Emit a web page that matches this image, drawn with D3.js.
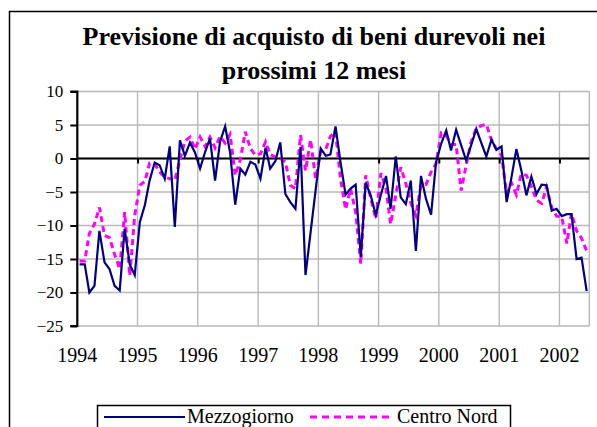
<!DOCTYPE html>
<html><head><meta charset="utf-8">
<script src="https://cdn.jsdelivr.net/npm/d3@7"></script>
<style>body{margin:0;background:#fff}svg{display:block}</style>
</head><body><svg id="c" width="597" height="427"></svg>
<script>
// ---- data ----
const title1 = "Previsione di acquisto di beni durevoli nei";
const title2 = "prossimi 12 mesi";
const yearLabels = ["1994","1995","1996","1997","1998","1999","2000","2001","2002"];
const yTickValues = [10, 5, 0, -5, -10, -15, -20, -25];
const seriesNames = ["Mezzogiorno", "Centro Nord"];
// monthly observations, January 1994 - June 2002
const mezzogiorno = [
 -15.8,-15.8,-20.0,-19.0,-10.8,-15.5,-16.5,-19.0,-19.7,-10.5,-15.8,-17.4,
 -9.5,-6.9,-3.3,-0.6,-1.0,-3.0,1.8,-10.2,2.7,0.4,2.4,0.9,
 -1.5,1.0,3.0,-3.3,2.5,4.8,0.9,-6.9,-1.5,-2.4,-0.5,-0.9,
 -3.0,1.6,-1.5,-0.4,2.4,-5.3,-6.5,-7.5,1.7,-17.4,-11.0,-4.8,
 1.5,0.4,0.6,4.8,-0.5,-5.4,-4.5,-3.9,-14.7,-3.6,-5.6,-8.4,
 -5.4,-2.6,-7.5,0.3,-5.8,-6.8,-3.3,-13.8,-2.6,-6.0,-8.4,-0.6,
 2.2,4.2,1.2,4.3,2.0,-0.3,2.0,4.4,2.3,0.3,2.8,1.3,
 1.8,-6.5,-3.0,1.4,-1.8,-5.5,-2.7,-5.3,-3.9,-4.0,-7.8,-7.5,
 -8.6,-8.3,-8.3,-15.0,-14.8,-19.8
];
const centroNord = [
 -15.3,-15.3,-11.2,-9.8,-7.3,-11.5,-11.8,-14.3,-16.5,-8.0,-17.5,-8.5,
 -4.0,-3.4,-0.7,-0.8,-2.0,-2.8,-3.0,-3.3,-0.2,2.6,3.2,1.4,
 3.2,1.8,3.2,1.6,3.3,2.3,3.6,-2.5,-0.2,4.0,1.5,0.5,
 0.7,2.5,0.6,0.2,0.0,-0.5,-4.0,-4.5,3.5,-1.8,2.8,-3.0,
 1.0,1.4,3.3,4.0,-3.0,-7.6,-4.5,-8.0,-15.7,-2.5,-6.0,-9.0,
 -2.2,-4.5,-9.8,-5.5,-1.3,-3.7,-6.6,-8.5,-4.0,-3.9,-2.0,-0.8,
 3.8,3.4,2.1,2.1,-4.8,-1.0,2.5,4.5,4.9,5.1,2.8,1.4,
 0.5,-5.2,-3.6,-5.4,-2.3,-2.5,-4.2,-6.2,-6.7,-4.3,-7.3,-8.6,
 -8.7,-12.7,-8.2,-10.8,-11.9,-13.8
];

// ---- pick an installed serif face (Times-like) ----
const serifCandidates = ["Liberation Serif", "Times New Roman", "Tinos", "DejaVu Serif", "Noto Serif", "FreeSerif", "Nimbus Roman", "Times"];
const ctx = document.createElement("canvas").getContext("2d");
function width(fam) { ctx.font = `20px ${fam}`; return ctx.measureText("Previsione di acquisto 1994 Mezzogiorno").width; }
const wMono = width("monospace"), wSans = width("sans-serif");
let serifFamily = "serif";
for (const f of serifCandidates) {
  const a = width(`"${f}", monospace`), b = width(`"${f}", sans-serif`);
  if (Math.abs(a - b) < 0.01 && Math.abs(a - wMono) > 0.01) { serifFamily = `"${f}"`; break; }
}
const serif = `${serifFamily}, serif`;

// ---- chart ----
const svg = d3.select("#c");
const L = 77.3, R = 589.3, T = 91.5, B = 326;

const dates = mezzogiorno.map((_, i) => new Date(+yearLabels[0], i, 15));
const x = d3.scaleTime()
  .domain([new Date(+yearLabels[0], 0, 1), new Date(+yearLabels[yearLabels.length-1], 6, 1)])
  .range([L, R]);
const y = d3.scaleLinear().domain([-25, 10]).range([B, T]);
const yearDates = yearLabels.map(s => new Date(+s, 0, 1));

// outer frame
svg.append("rect").attr("x", 9.5).attr("y", 11.5).attr("width", 600).attr("height", 430)
  .attr("fill", "#fff").attr("stroke", "#000").attr("stroke-width", 1.5);

// title
const tfs = serifFamily === "serif" ? 26 : 26;
svg.append("text").attr("x", 314).attr("y", 45).attr("text-anchor", "middle")
  .style("font-family", serif).attr("font-weight", "bold").attr("font-size", tfs).text(title1);
svg.append("text").attr("x", 314).attr("y", 79).attr("text-anchor", "middle")
  .style("font-family", serif).attr("font-weight", "bold").attr("font-size", tfs).text(title2);

// gridlines
const grid = svg.append("g").attr("stroke", "#b8b8b8").attr("stroke-width", 1.4);
grid.selectAll("line.h").data(yTickValues).join("line")
  .attr("x1", L).attr("x2", R).attr("y1", d => y(d)).attr("y2", d => y(d));
grid.selectAll("line.v").data(yearDates.slice(1)).join("line")
  .attr("x1", d => x(d)).attr("x2", d => x(d)).attr("y1", T).attr("y2", B);
grid.append("line").attr("x1", R).attr("x2", R).attr("y1", T).attr("y2", B);

// y axis
const yAxis = d3.axisLeft(y).tickValues(yTickValues).tickSize(7).tickPadding(7).tickFormat(d3.format("d"));
const ya = svg.append("g").attr("transform", `translate(${L},0)`).call(yAxis);
ya.attr("font-family", null).attr("font-size", null);
ya.select(".domain").attr("stroke", "#000").attr("stroke-width", 2.2).attr("d", `M-7,${T}H0V${B}H-7`);
ya.selectAll(".tick line").attr("stroke", "#000").attr("stroke-width", 2);
ya.selectAll(".tick text").style("font-family", serif).attr("font-size", 17).attr("fill", "#000");

// zero line with year ticks
const xAxis = d3.axisBottom(x).tickValues(yearDates.slice(1)).tickSize(5).tickFormat("");
const xa = svg.append("g").attr("transform", `translate(0,${y(0)})`).call(xAxis);
xa.select(".domain").attr("stroke", "#000").attr("stroke-width", 2.2).attr("d", `M${L},0H${R}`);
xa.selectAll(".tick line").attr("stroke", "#000").attr("stroke-width", 2);

// year labels
svg.append("g").selectAll("text").data(yearLabels).join("text")
  .attr("x", (d, i) => x(yearDates[i])).attr("y", 362).attr("text-anchor", "middle")
  .style("font-family", serif).attr("font-size", 20).text(d => d);

// series
const line = d3.line().x((d, i) => x(dates[i])).y(d => y(d));
svg.append("path").datum(centroNord).attr("d", line).attr("fill", "none")
  .attr("stroke", "#ff00ff").attr("stroke-width", 3).attr("stroke-dasharray", "6,4");
svg.append("path").datum(mezzogiorno).attr("d", line).attr("fill", "none")
  .attr("stroke", "#000080").attr("stroke-width", 2.2).attr("stroke-linejoin", "miter");

// legend
const lg = svg.append("g");
lg.append("rect").attr("x", 97.5).attr("y", 405.5).attr("width", 413).attr("height", 40)
  .attr("fill", "#fff").attr("stroke", "#000").attr("stroke-width", 1.5);
lg.append("line").attr("x1", 104).attr("x2", 185).attr("y1", 417).attr("y2", 417)
  .attr("stroke", "#000080").attr("stroke-width", 2.2);
lg.append("text").attr("x", 187).attr("y", 423).style("font-family", serif).attr("font-size", 20).text(seriesNames[0]);
lg.append("line").attr("x1", 310).attr("x2", 393).attr("y1", 417).attr("y2", 417)
  .attr("stroke", "#ff00ff").attr("stroke-width", 3).attr("stroke-dasharray", "7,5");
lg.append("text").attr("x", 397).attr("y", 423).style("font-family", serif).attr("font-size", 20).text(seriesNames[1]);
</script></body></html>
